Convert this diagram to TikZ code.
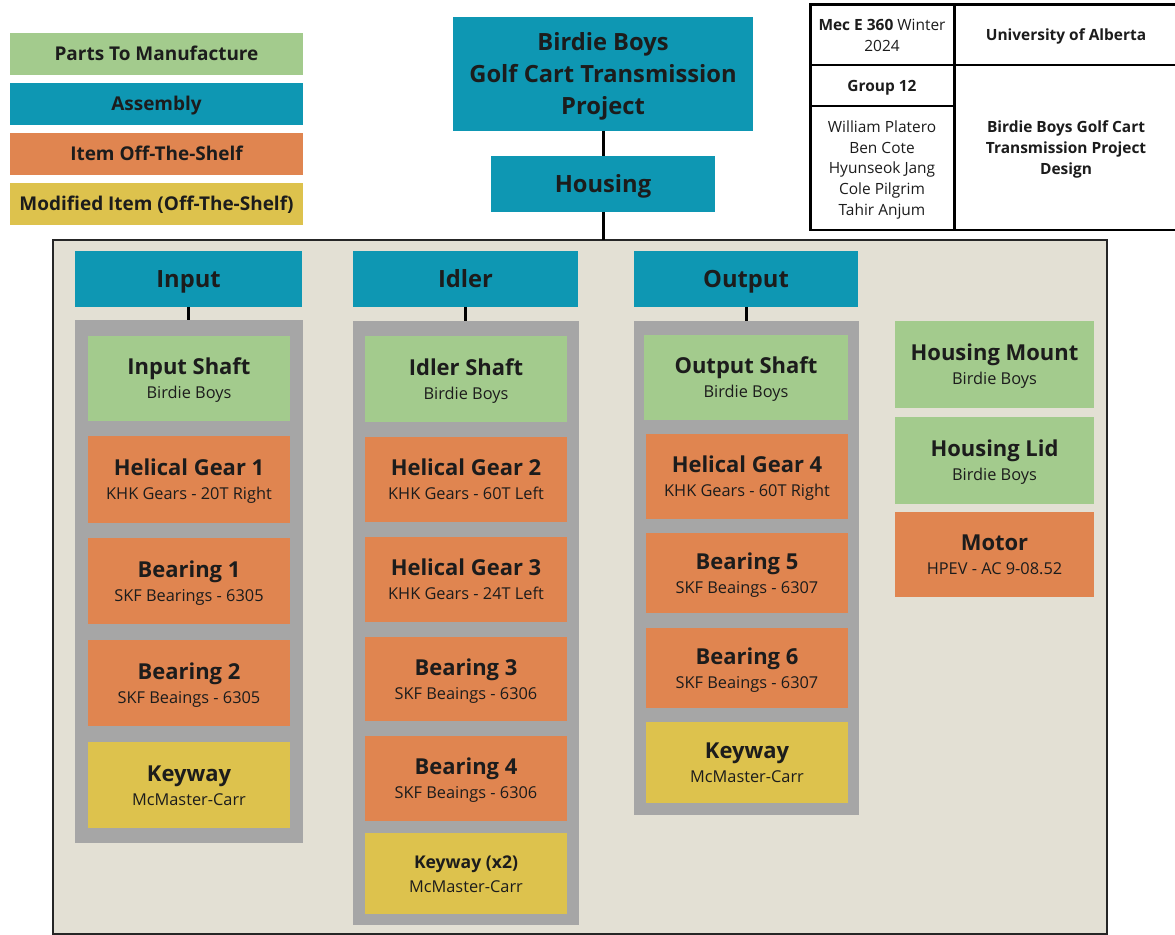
\documentclass[tikz,border=0pt]{standalone}
\usepackage{fontspec}
\setmainfont{Open Sans}
\definecolor{mfgc}{HTML}{A3CB8D}
\definecolor{asmc}{HTML}{0E97B3}
\definecolor{otsc}{HTML}{E08550}
\definecolor{modc}{HTML}{DDC24D}
\definecolor{grpc}{HTML}{A6A6A6}
\definecolor{panelc}{HTML}{E3E0D4}
\definecolor{txt}{HTML}{1C1C1C}
% fonts
\newcommand\titlef{\fontsize{12.5}{13.6}\selectfont\bfseries}
\newcommand\subf{\fontsize{9.3}{13.6}\selectfont}
\newcommand\headf{\fontsize{13.5}{18.2}\selectfont\bfseries}
\newcommand\legf{\fontsize{10.8}{13}\selectfont\bfseries}
\newcommand\blockf{\fontsize{8.8}{11.8}\selectfont}
% struts that give every line the same height and depth
\newcommand\lstrut{\vphantom{Ilpg}}
% two-line text of a part box
\newcommand\parttext[2]{{\titlef\lstrut #1}\\{\subf\lstrut #2}}
\newcommand\head[1]{\lstrut #1}
% box given by its corners (pixel units): style, name, x1, y1, x2, y2, text;
% the text is set a little below the centre of the box
\newcommand\placebox[7]{%
  \node[#1, minimum width={(#5-#3)*0.02cm}, minimum height={(#6-#4)*0.02cm}]
    (#2) at ({(#3+#5)/2},{(#4+#6)/2}) {};
  \node[#1, draw=none, fill=none, yshift=-1.1pt] at (#2.center) {#7};}
\begin{document}
\begin{tikzpicture}[x=0.02cm,y=-0.02cm,
  box/.style={rectangle, inner sep=0pt, outer sep=0pt, align=center, text=txt, font=\subf},
  mfg/.style={box, fill=mfgc},
  asm/.style={box, fill=asmc, font=\headf},
  ots/.style={box, fill=otsc},
  mod/.style={box, fill=modc},
  grp/.style={box, fill=grpc},
  legend/.style={box, font=\legf},
  cell/.style={box, draw=black, line width=1.7pt, font=\blockf},
  conn/.style={draw=black, line width=1.7pt},
]
\useasboundingbox (0,0) rectangle (1175,935);
\clip (0,0) rectangle (1175,935);
\fill[white] (0,0) rectangle (1175,935);

% legend
\placebox{legend, fill=mfgc}{lmfg}{10}{33}{303}{75}{\lstrut Parts To Manufacture}
\placebox{legend, fill=asmc}{lasm}{10}{83}{303}{125}{\lstrut Assembly}
\placebox{legend, fill=otsc}{lots}{10}{133}{303}{175}{\lstrut Item Off-The-Shelf}
\placebox{legend, fill=modc}{lmod}{10}{183}{303}{225}{\lstrut Modified Item (Off-The-Shelf)}

% title block
\placebox{cell}{course}{810}{5}{954}{65}{\lstrut\textbf{Mec E 360} Winter\\\lstrut 2024}
\placebox{cell}{uni}{954}{5}{1178}{65}{\lstrut\textbf{University of Alberta}}
\placebox{cell}{group}{810}{65}{954}{106}{\lstrut\textbf{Group 12}}
\placebox{cell}{names}{810}{106}{954}{230}{William Platero\\Ben Cote\\Hyunseok Jang\\Cole Pilgrim\\\lstrut Tahir Anjum}
\placebox{cell}{design}{954}{65}{1178}{230}{\textbf{Birdie Boys Golf Cart}\\\textbf{Transmission Project}\\\lstrut\textbf{Design}}

% top of the tree
\placebox{asm}{project}{453}{17}{753}{131}{\lstrut Birdie Boys\\Golf Cart Transmission\\\lstrut Project}
\placebox{asm}{housing}{491}{156}{715}{212}{\head{Housing}}

% housing panel
\placebox{box, fill=panelc, draw=black!85, line width=1.2pt}{panel}{53}{240}{1107}{934}{}

\draw[conn] (project.south) -- (housing.north);
\draw[conn] (housing.south) -- (housing.south |- panel.north);

% input shaft assembly
\placebox{asm}{hin}{75}{251}{302}{307}{\head{Input}}
\placebox{grp}{gin}{75}{320}{303}{843}{}
\draw[conn] (hin.south) -- (hin.south |- gin.north);
\placebox{mfg}{inshaft}{88}{336}{290}{421}{\parttext{Input Shaft}{Birdie Boys}}
\placebox{ots}{hg1}{88}{436}{290}{523}{\parttext{Helical Gear 1}{KHK Gears - 20T Right}}
\placebox{ots}{b1}{88}{538}{290}{624}{\parttext{Bearing 1}{SKF Bearings - 6305}}
\placebox{ots}{b2}{88}{640}{290}{726}{\parttext{Bearing 2}{SKF Beaings - 6305}}
\placebox{mod}{kin}{88}{742}{290}{828}{\parttext{Keyway}{McMaster-Carr}}

% idler shaft assembly
\placebox{asm}{hid}{353}{251}{578}{307}{\head{Idler}}
\placebox{grp}{gid}{353}{321}{579}{925}{}
\draw[conn] (hid.south) -- (hid.south |- gid.north);
\placebox{mfg}{idshaft}{365}{336}{567}{422}{\parttext{Idler Shaft}{Birdie Boys}}
\placebox{ots}{hg2}{365}{437}{567}{522}{\parttext{Helical Gear 2}{KHK Gears - 60T Left}}
\placebox{ots}{hg3}{365}{537}{567}{622}{\parttext{Helical Gear 3}{KHK Gears - 24T Left}}
\placebox{ots}{b3}{365}{637}{567}{721}{\parttext{Bearing 3}{SKF Beaings - 6306}}
\placebox{ots}{b4}{365}{736}{567}{821}{\parttext{Bearing 4}{SKF Beaings - 6306}}
\placebox{mod}{kid}{365}{833}{567}{914}{{\fontsize{10}{13.6}\selectfont\bfseries\lstrut Keyway (x2)}\\{\subf\lstrut McMaster-Carr}}

% output shaft assembly
\placebox{asm}{hout}{634}{251}{858}{307}{\head{Output}}
\placebox{grp}{gout}{634}{321}{859}{815}{}
\draw[conn] (hout.south) -- (hout.south |- gout.north);
\placebox{mfg}{outshaft}{644}{335}{848}{420}{\parttext{Output Shaft}{Birdie Boys}}
\placebox{ots}{hg4}{646}{434}{848}{519}{\parttext{Helical Gear 4}{KHK Gears - 60T Right}}
\placebox{ots}{b5}{646}{533}{848}{613}{\parttext{Bearing 5}{SKF Beaings - 6307}}
\placebox{ots}{b6}{646}{628}{848}{708}{\parttext{Bearing 6}{SKF Beaings - 6307}}
\placebox{mod}{kout}{646}{722}{848}{803}{\parttext{Keyway}{McMaster-Carr}}

% housing parts
\placebox{mfg}{mount}{895}{321}{1094}{408}{\parttext{Housing Mount}{Birdie Boys}}
\placebox{mfg}{lid}{895}{417}{1094}{504}{\parttext{Housing Lid}{Birdie Boys}}
\placebox{ots}{motor}{895}{512}{1094}{597}{\parttext{Motor}{HPEV - AC 9-08.52}}
\end{tikzpicture}
\end{document}
